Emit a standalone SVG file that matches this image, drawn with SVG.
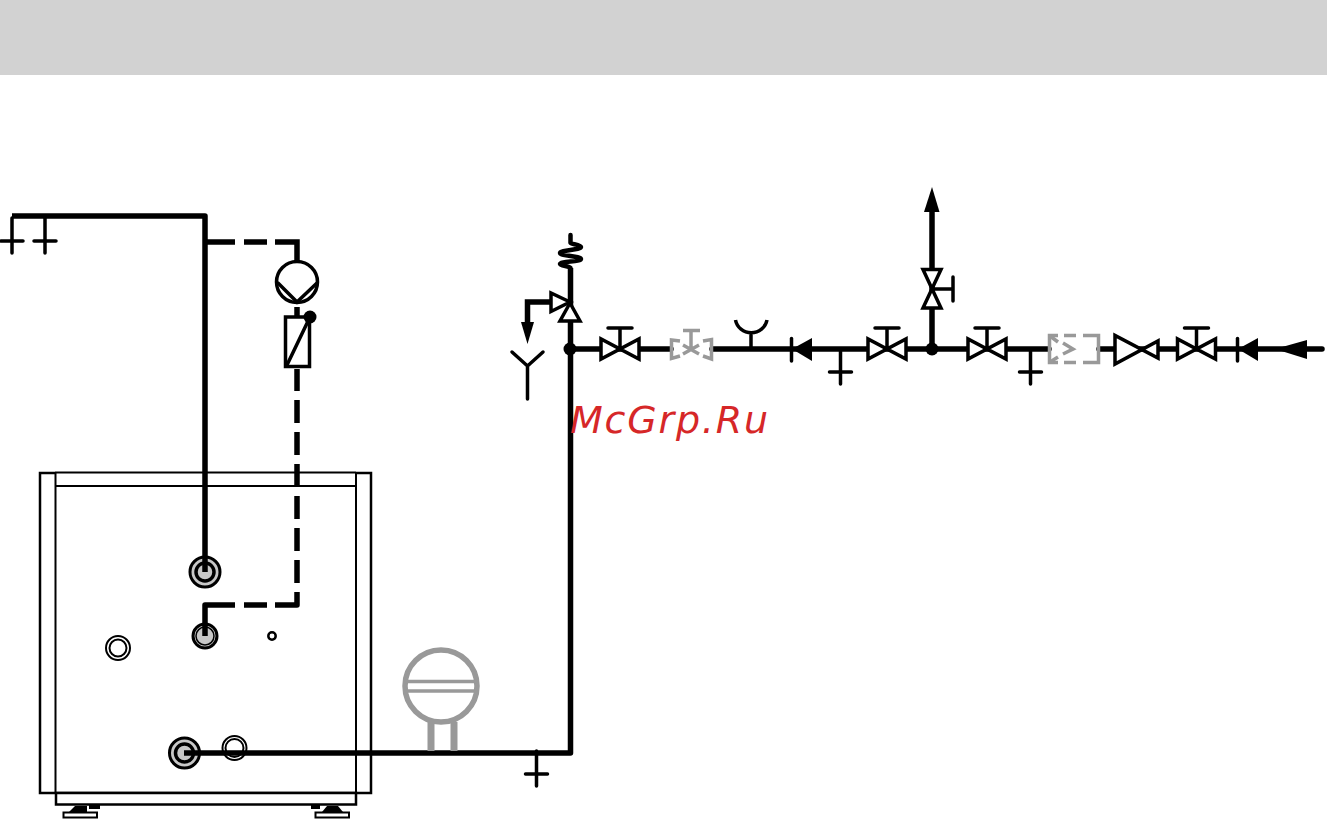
<svg xmlns="http://www.w3.org/2000/svg" width="1327" height="837" viewBox="0 0 1327 837">
<style>
.pipe{fill:none;stroke:#000;stroke-width:5.500}
.sym{fill:#fff;stroke:#000;stroke-width:3.500}
.line{fill:none;stroke:#000;stroke-width:3.500;stroke-linecap:round}
.thin{fill:none;stroke:#000;stroke-width:2}
.solid{fill:#000;stroke:none}
.gray{fill:none;stroke:#999;stroke-width:3.500}
.port{fill:#c8c8c8;stroke:#000;stroke-width:3}
.ring{fill:#fff;stroke:#000;stroke-width:2}
</style>
<defs>
<g id="valve">
<path class="sym" d="M-19 -10V10L19 -10V10Z"/>
<path class="line" d="M0 0V-21M-12 -21H12"/>
</g>
<path id="tee" class="line" d="M0 0V35M-11 23H11"/>
</defs>
<rect id="header" x="0" y="0" width="1327" height="75" fill="#d2d2d2"/>
<g id="cabinet">
<path d="M55 473H40V793H371V473H356" fill="none" stroke="#000" stroke-width="2.500"/>
<path class="thin" d="M55 472.500H356M55 486H356M55.500 472V792M356 472V792"/>
<rect x="56" y="793" width="300" height="11.500" fill="#fff" stroke="#000" stroke-width="2.500"/>
<g id="foot-left">
<path class="solid" d="M69 812L75 806H87V812Z"/>
<path class="solid" d="M89 805H100V809H89Z"/>
<rect x="63.500" y="812.500" width="33.500" height="5" fill="#fff" stroke="#000" stroke-width="2"/>
</g>
<g id="foot-right">
<path class="solid" d="M322 812L327 806H338L343 812Z"/>
<path class="solid" d="M311 805H320V809H311Z"/>
<rect x="315.500" y="812.500" width="33.500" height="5" fill="#fff" stroke="#000" stroke-width="2"/>
</g>
</g>
<g id="port-flow">
<circle class="port" cx="205" cy="572" r="15"/>
<circle cx="205" cy="572" r="9" fill="none" stroke="#000" stroke-width="3.500"/>
</g>
<g id="port-return">
<circle class="port" cx="205" cy="636" r="12"/>
<circle cx="205" cy="636" r="9" fill="none" stroke="#000" stroke-width="1.500"/>
</g>
<g id="port-a">
<circle class="ring" cx="118" cy="648" r="12"/>
<circle class="ring" cx="118" cy="648" r="8.500"/>
</g>
<g id="port-b">
<circle cx="272" cy="636" r="3.700" fill="#fff" stroke="#000" stroke-width="2.500"/>
</g>
<g id="port-cold">
<circle class="port" cx="184.500" cy="753" r="15"/>
<circle cx="184.500" cy="753" r="9" fill="none" stroke="#000" stroke-width="3.500"/>
</g>
<g id="port-c">
<circle class="ring" cx="234.500" cy="748" r="12"/>
<circle class="ring" cx="234.500" cy="748" r="9"/>
</g>
<g id="connectors">
<path class="pipe" d="M12 216H205V572" stroke-linejoin="round"/>
<path class="pipe" d="M207 242H235M244 242H267M275 242H297V262"/>
<path class="pipe" d="M297 307V317"/>
<path class="pipe" d="M297 369V391M297 400V423M297 432V455M297 464V487M297 496V519M297 528V551M297 560V583M297 592V605H275M267 605H244M235 605H205V636" stroke-linejoin="round"/>
<path class="pipe" d="M184 753H570.500V268" stroke-linejoin="round"/>
<path d="M570.500 235V243C570.500 244 581 245 581 247C581 250 560 250 560 253C560 256 581 256 581 259C581 262 560 261 560 264C560 266 570.500 266 570.500 268" fill="none" stroke="#000" stroke-width="4.500" stroke-linecap="round"/>
<path class="pipe" d="M570 349H671M712 349H1049M1099 349H1322" stroke-linecap="round"/>
<path class="pipe" d="M932 349V209"/>
<path class="pipe" d="M551 302H527.500V326"/>
</g>
<use id="drain-tee-1" href="#tee" x="12" y="218"/>
<use id="drain-tee-2" href="#tee" x="45" y="218"/>
<g id="pump">
<circle cx="297" cy="282" r="20.500" fill="#fff" stroke="#000" stroke-width="3.500"/>
<path class="line" d="M278 283L297 302L317 283"/>
</g>
<g id="actuator">
<rect x="285.500" y="317" width="24" height="49.500" class="sym"/>
<path class="line" d="M287 365L310 317"/>
<circle cx="310" cy="317" r="6.500" fill="#000"/>
</g>
<g id="expansion-vessel">
<circle cx="441" cy="686" r="36" fill="#fff" stroke="#999" stroke-width="5.500"/>
<path class="gray" d="M405 681.500H477M405 691H477"/>
<path d="M431 722V751M454 722V751" fill="none" stroke="#999" stroke-width="7"/>
</g>
<use id="drain-tee-3" href="#tee" x="536.500" y="751"/>
<g id="safety-valve">
<path class="sym" d="M551 293V311.500L570 302Z"/>
<path class="sym" d="M570 303L560 321H580Z"/>
</g>
<path id="outlet-arrow" class="solid" d="M521 322H534L527.500 344Z"/>
<path id="funnel" class="line" d="M512 352L527.500 366L543 352M527.500 366V399"/>
<circle id="junction-1" cx="570" cy="349" r="6.500" fill="#000"/>
<use id="valve-1" href="#valve" x="620" y="349"/>
<g id="optional-valve" fill="none" stroke="#999" stroke-width="3.500">
<path d="M680 341L671.500 340V358.500L680 356M703 341L711.500 339.500V359L703 356"/>
<path d="M683 345L699 354M699 345L683 354M691 349V331M683 330.500H700"/>
</g>
<g id="gauge-tap">
<path class="line" d="M751 349V335"/>
<path d="M735.500 320A16 15.500 0 0 0 767 320" fill="none" stroke="#000" stroke-width="3.500"/>
</g>
<g id="check-valve-1">
<path class="solid" d="M792 349L812 338V361Z"/>
<path class="line" d="M791.500 338.500V361"/>
</g>
<use id="drain-tee-4" href="#tee" x="840.500" y="349"/>
<use id="valve-2" href="#valve" x="887" y="349"/>
<circle id="junction-2" cx="932" cy="349" r="6.500" fill="#000"/>
<g id="valve-up">
<path class="sym" d="M923 269.500H941L923 308H941Z"/>
<path class="line" d="M932 289H953M953 277V301"/>
</g>
<path id="arrow-up" class="solid" d="M932 187L939.500 212H924Z"/>
<use id="valve-3" href="#valve" x="987" y="349"/>
<use id="drain-tee-5" href="#tee" x="1030.500" y="349"/>
<g id="optional-filter" class="gray">
<path d="M1058 335.500H1049.500V362.500H1058M1064 335.500H1076M1083 335.500H1098.500V362.500H1083M1076 362.500H1064"/>
<path d="M1050 336L1058 342M1063 343L1073 349L1063 354M1058 357L1050 362"/>
</g>
<g id="reducer">
<path class="sym" d="M1115 335.500V364L1158 341V358Z"/>
</g>
<use id="valve-4" href="#valve" x="1196.500" y="349"/>
<g id="check-valve-2">
<path class="solid" d="M1238 349L1258 338V361Z"/>
<path class="line" d="M1237.500 338.500V361"/>
</g>
<path id="inlet-arrow" class="solid" d="M1275 349L1307 340V359Z"/>
<text id="watermark" x="570" y="433" font-family="'DejaVu Sans',sans-serif" font-style="italic" font-size="38" fill="#d62728" textLength="198">McGrp.Ru</text>
</svg>
